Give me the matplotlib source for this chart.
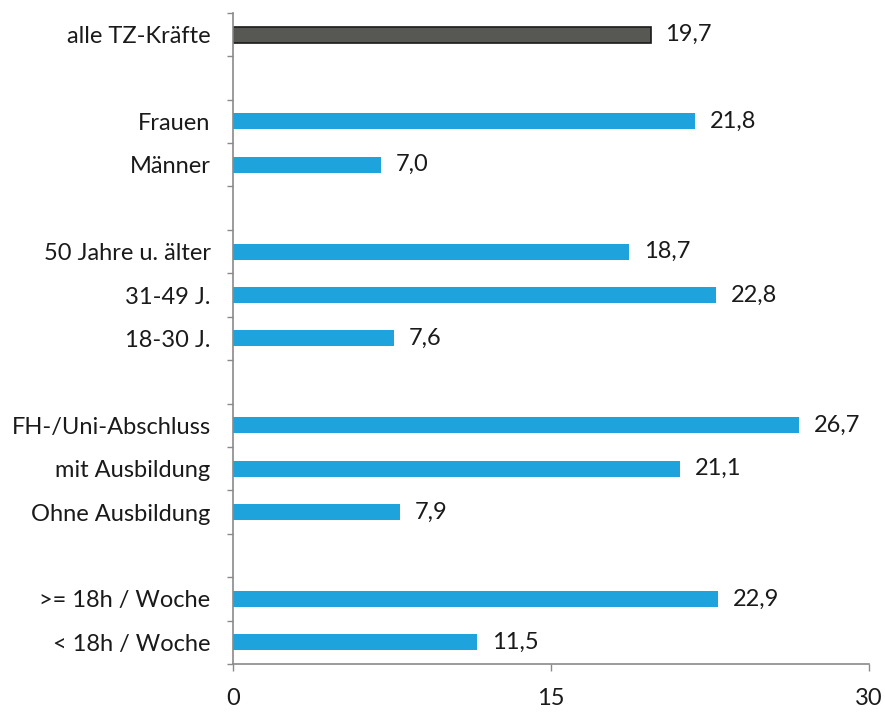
import matplotlib.pyplot as plt
import numpy as np

plt.rcParams['font.family'] = ['Lato', 'DejaVu Sans']

# categories from top to bottom, None = empty gap row
labels = ["alle TZ-Kräfte", None,
          "Frauen", "Männer", None,
          "50 Jahre u. älter", "31-49 J.", "18-30 J.", None,
          "FH-/Uni-Abschluss", "mit Ausbildung", "Ohne Ausbildung", None,
          ">= 18h / Woche", "< 18h / Woche"]
values = [19.7, None,
          21.8, 7.0, None,
          18.7, 22.8, 7.6, None,
          26.7, 21.1, 7.9, None,
          22.9, 11.5]
x_ticks = [0, 15, 30]

blue = "#1ea3dc"
dark = "#575753"
axis_col = "#8a8a8a"
fs = 17

fig = plt.figure(figsize=(8.85, 7.13), dpi=100)
ax = fig.add_axes([0.263, 0.0687, 0.719, 0.9133])

n = len(labels)
pos = np.arange(n)
for i, (lab, v) in enumerate(zip(labels, values)):
    if v is None:
        continue
    if i == 0:
        ax.barh(i, v, height=0.37, color=dark, edgecolor="#1a1a1a", linewidth=1.2)
    else:
        ax.barh(i, v, height=0.37, color=blue, edgecolor="none")
    ax.text(v + 0.7, i, f"{v:.1f}".replace(".", ","), va="center", ha="left",
            fontsize=fs, color="#1a1a1a")

ax.set_ylim(n - 0.5, -0.5)
ax.set_xlim(0, 30)

# category names at row centres, small ticks at row boundaries
ax.set_yticks([p for p, l in zip(pos, labels) if l is not None])
ax.set_yticklabels([l for l in labels if l is not None], fontsize=fs, color="#1a1a1a")
ax.tick_params(axis="y", which="major", length=0, pad=16)
ax.set_yticks(np.arange(n + 1) - 0.5, minor=True)
ax.tick_params(axis="y", which="minor", length=4, color=axis_col, width=1)

ax.set_xticks(x_ticks)
ax.set_xticklabels([str(t) for t in x_ticks], fontsize=fs, color="#1a1a1a")
ax.tick_params(axis="x", length=5, color=axis_col, width=1, pad=12)

for side in ["top", "right"]:
    ax.spines[side].set_visible(False)
ax.spines["left"].set_color(axis_col)
ax.spines["bottom"].set_color(axis_col)
ax.spines["left"].set_linewidth(1.2)
ax.spines["bottom"].set_linewidth(1.2)

fig.savefig("out.png", dpi=100, facecolor="white")
